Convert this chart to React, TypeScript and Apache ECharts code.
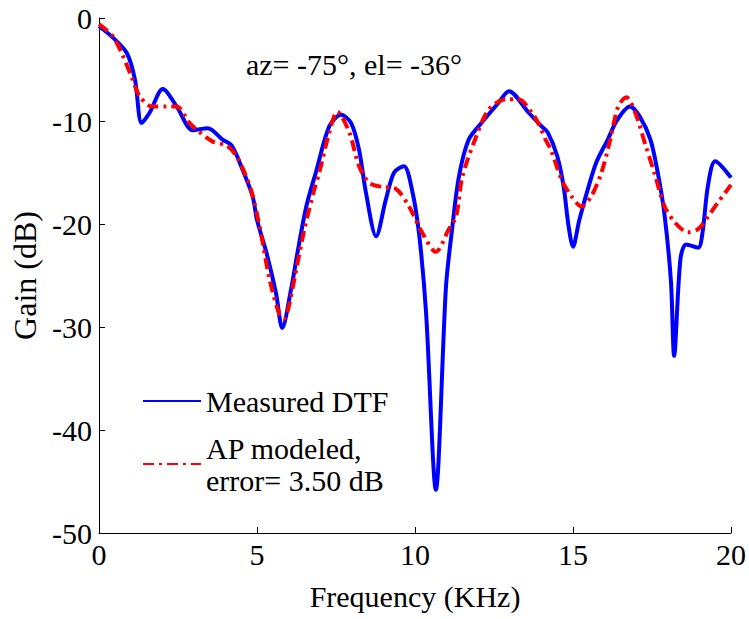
import React, { useEffect, useRef } from "react";
import * as echarts from "echarts";

// Frequency (kHz) / Gain (dB) pairs
const measuredFreq = [0, 0.44, 0.88, 1.14, 1.35, 1.6, 2.02, 2.46, 2.97, 3.44, 3.91, 4.2, 4.54, 4.86, 5.0, 5.3, 5.6, 5.8, 6.08, 6.28, 6.56, 6.88, 7.29, 7.66, 7.98, 8.23, 8.45, 8.77, 9.08, 9.34, 9.65, 9.9, 10.13, 10.35, 10.66, 10.98, 11.17, 11.39, 11.7, 12.1, 12.65, 12.97, 13.6, 14.0, 14.2, 14.5, 14.7, 14.86, 15.0, 15.2, 15.5, 15.74, 16.1, 16.4, 16.8, 17.1, 17.45, 17.7, 17.9, 18.1, 18.2, 18.4, 18.58, 18.96, 19.1, 19.27, 19.5, 20];
const measuredGain = [-0.8, -1.9, -3.4, -6, -10.2, -9.2, -6.9, -8.6, -10.9, -10.7, -11.8, -12.4, -14.7, -17.3, -19.6, -22.8, -26.7, -30.1, -26.3, -22.8, -18.3, -14.8, -10.5, -9.4, -10.2, -12.8, -17, -21.2, -17.6, -15, -14.4, -16.6, -21, -28.6, -45.8, -26.1, -20.6, -15.4, -11.8, -10.2, -8.2, -7.1, -9.2, -10.5, -11.1, -13.4, -16.3, -20.2, -22.2, -19.6, -16.3, -14.0, -11.8, -9.9, -8.6, -9.5, -11.8, -15.3, -19.2, -25.6, -32.8, -23.4, -22, -22.3, -20.8, -16.3, -13.9, -15.5];

const modeledFreq = [0, 0.44, 0.76, 1.04, 1.29, 1.67, 2.14, 2.46, 2.87, 3.19, 3.6, 4.04, 4.35, 4.7, 4.86, 5.08, 5.4, 5.71, 5.85, 5.96, 6.18, 6.5, 6.81, 6.97, 7.29, 7.54, 7.92, 8.23, 8.55, 8.96, 9.4, 9.81, 10.22, 10.66, 11.07, 11.3, 11.5, 11.9, 12.33, 12.87, 13.28, 13.7, 13.9, 14.13, 14.3, 14.64, 14.95, 15.27, 15.58, 15.9, 16.18, 16.43, 16.69, 16.97, 17.3, 17.6, 17.9, 18.24, 18.64, 18.96, 19.27, 19.59, 20];
const modeledGain = [-0.6, -1.8, -3.7, -5.8, -7.6, -8.6, -8.6, -8.6, -10.2, -11.1, -12.0, -12.4, -13.4, -15.7, -17.2, -20.2, -25.4, -28.8, -29.2, -28.6, -25.4, -20.5, -16.7, -15, -11.1, -9.1, -11.1, -14.4, -16, -16.4, -16.6, -18.3, -20.8, -22.7, -20.5, -19.3, -15.4, -11.8, -8.9, -7.9, -7.9, -9.2, -10.2, -11.8, -12.8, -15.7, -17.3, -18.3, -17.3, -15, -11.8, -8.6, -7.7, -9.2, -12.4, -15.3, -18.3, -19.9, -20.8, -20.5, -19.3, -17.9, -16.2];

const seriesNames = ["Measured DTF", "AP modeled,\nerror= 3.50 dB"];
const annotation = "az= -75°, el= -36°";
const xAxisName = "Frequency (KHz)";
const yAxisName = "Gain (dB)";

const FONT = "Liberation Serif";
const CSS_FONT = '"Liberation Serif", serif';

export default function App() {
  const ref = useRef<HTMLDivElement>(null);
  useEffect(() => {
    document.body.style.margin = "0";
    const host = ref.current!;
    const chart = echarts.init(host, null, { renderer: "svg" });
    const measured = measuredFreq.map((f, i) => [f, measuredGain[i]]);
    const modeled = modeledFreq.map((f, i) => [f, modeledGain[i]]);

    const fixFonts = () => {
      host.querySelectorAll("text, tspan").forEach((el) => {
        const s = (el as SVGElement).style;
        if (!s.getPropertyValue("font-family").includes("Liberation Serif") || s.getPropertyPriority("font-family") !== "important") {
          s.setProperty("font-family", CSS_FONT, "important");
        }
        if (el.getAttribute("font-family") !== FONT) el.setAttribute("font-family", FONT);
      });
    };
    const observer = new MutationObserver(() => fixFonts());
    observer.observe(host, { subtree: true, childList: true, attributes: true, attributeFilter: ["style"] });

    chart.setOption({
      animation: false,
      backgroundColor: "#ffffff",
      grid: { left: 99, right: 16, top: 18, bottom: 86, containLabel: false },
      xAxis: {
        type: "value",
        min: 0,
        max: 20,
        interval: 5,
        name: xAxisName,
        nameLocation: "middle",
        nameGap: 48,
        nameTextStyle: { fontFamily: FONT, fontSize: 30, color: "#000" },
        axisLine: { onZero: false, lineStyle: { color: "#000", width: 1 } },
        axisTick: { inside: true, length: 6, lineStyle: { color: "#000" } },
        axisLabel: { fontFamily: FONT, fontSize: 30, color: "#000", margin: 6 },
        splitLine: { show: false },
      },
      yAxis: {
        type: "value",
        min: -50,
        max: 0,
        interval: 10,
        name: yAxisName,
        nameLocation: "middle",
        nameRotate: 90,
        nameGap: 55,
        nameTextStyle: { fontFamily: FONT, fontSize: 32, color: "#000" },
        axisLine: { show: true, onZero: false, lineStyle: { color: "#000", width: 1 } },
        axisTick: { show: true, inside: true, length: 6, lineStyle: { color: "#000" } },
        axisLabel: { fontFamily: FONT, fontSize: 30, color: "#000", margin: 7 },
        splitLine: { show: false },
      },
      legend: {
        orient: "vertical",
        left: 137,
        top: 380,
        itemWidth: 58,
        itemHeight: 14,
        itemGap: 15,
        itemStyle: { opacity: 0 },
        textStyle: { fontFamily: FONT, fontSize: 30, color: "#000", lineHeight: 32 },
        data: seriesNames,
      },
      graphic: [
        {
          type: "text",
          x: 354,
          y: 64,
          style: {
            text: annotation,
            fontFamily: FONT,
            fontSize: 30,
            fill: "#000",
            align: "center",
            verticalAlign: "middle",
          },
        },
      ],
      series: [
        {
          name: seriesNames[0],
          type: "line",
          data: measured,
          smooth: 0.3,
          showSymbol: false,
          symbol: "none",
          lineStyle: { color: "#0000ff", width: 4 },
          itemStyle: { color: "#0000ff" },
          z: 2,
        },
        {
          name: seriesNames[1],
          type: "line",
          data: modeled,
          smooth: 0.3,
          showSymbol: false,
          symbol: "none",
          lineStyle: { color: "#ff0000", width: 4, type: [11, 5, 3, 5] },
          itemStyle: { color: "#ff0000" },
          z: 3,
        },
      ],
    });
    fixFonts();
    chart.on("finished", fixFonts);
    const raf = requestAnimationFrame(fixFonts);
    return () => {
      cancelAnimationFrame(raf);
      observer.disconnect();
      chart.dispose();
    };
  }, []);
  return (
    <>
      <style>{"svg text, svg tspan { font-family: \"Liberation Serif\", serif !important; }"}</style>
      <div ref={ref} style={{ position: "absolute", left: 0, top: 0, width: 749, height: 619, fontFamily: CSS_FONT }} />
    </>
  );
}
